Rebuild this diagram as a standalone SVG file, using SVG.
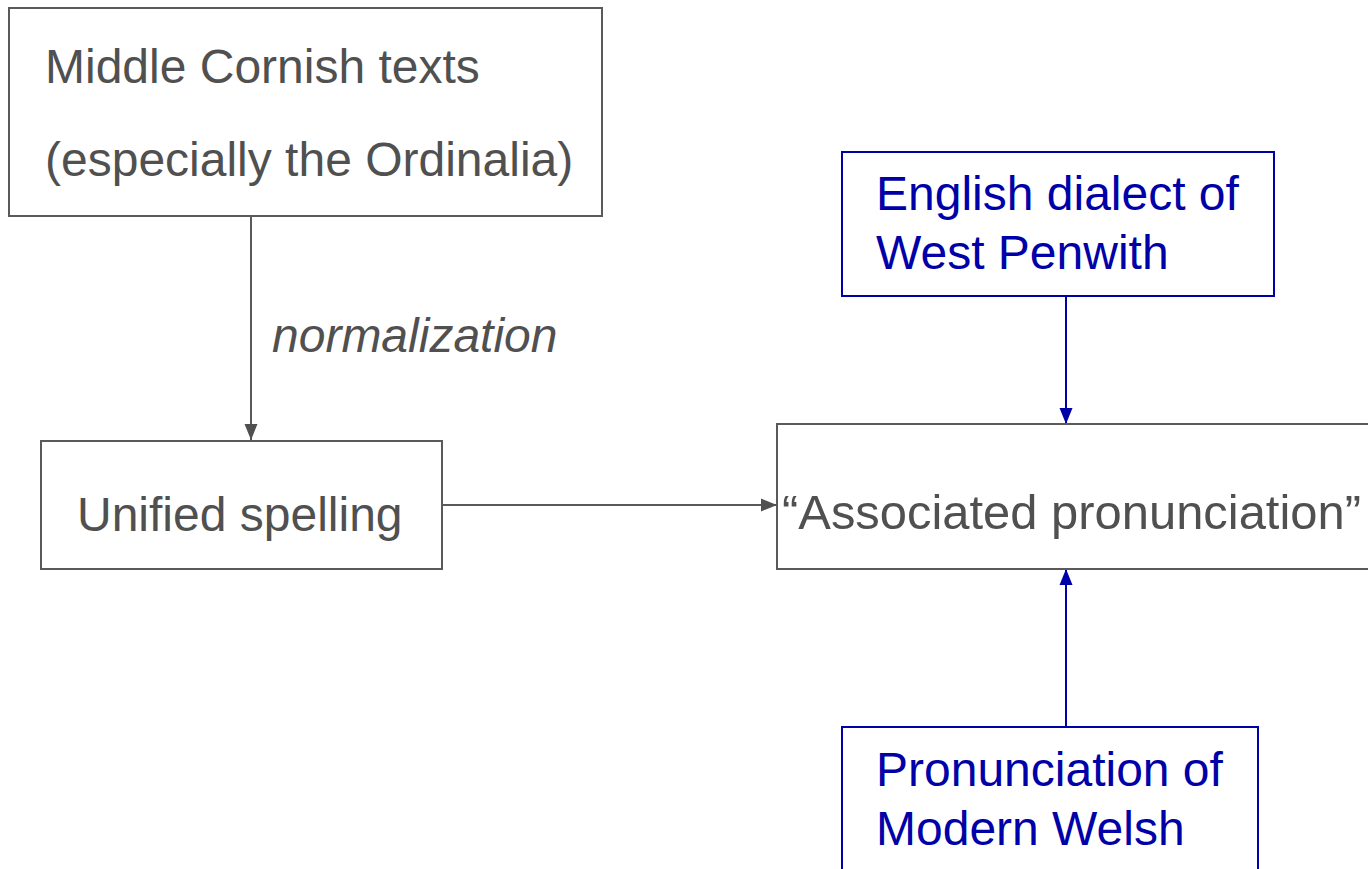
<svg xmlns="http://www.w3.org/2000/svg" width="1368" height="869" viewBox="0 0 1368 869">
<style>
.g{fill:#fff;stroke:#5a5a5a;stroke-width:2}
.b{fill:#fff;stroke:#0000a8;stroke-width:2}
.tg{font-family:"Liberation Sans",Arial,sans-serif;font-size:48px;fill:#505050}
.tb{font-family:"Liberation Sans",Arial,sans-serif;font-size:48px;fill:#0000a8}
.cg{stroke:#5a5a5a;stroke-width:2;fill:none}
.cb{stroke:#0000a8;stroke-width:2;fill:none}
</style>
<defs>
<marker id="ag" viewBox="0 0 16 14" refX="16" refY="7" markerWidth="16" markerHeight="14" markerUnits="userSpaceOnUse" orient="auto"><path d="M0,0.5 L16,7 L0,13.5 Z" fill="#505050"/></marker>
<marker id="ab" viewBox="0 0 16 14" refX="16" refY="7" markerWidth="16" markerHeight="14" markerUnits="userSpaceOnUse" orient="auto"><path d="M0,0.5 L16,7 L0,13.5 Z" fill="#0000a8"/></marker>
</defs>
<rect width="1368" height="869" fill="#fff"/>
<g id="connectors">
<line class="cg" x1="251" y1="216" x2="251" y2="440" marker-end="url(#ag)"/>
<line class="cg" x1="442" y1="505" x2="777" y2="505" marker-end="url(#ag)"/>
<line class="cb" x1="1066" y1="296" x2="1066" y2="424" marker-end="url(#ab)"/>
<line class="cb" x1="1066" y1="727" x2="1066" y2="569" marker-end="url(#ab)"/>
<text class="tg" x="272" y="352" font-style="italic">normalization</text>
</g>
<g id="middle-cornish">
<rect class="g" x="9" y="8" width="593" height="208"/>
<text class="tg" x="45" y="83">Middle Cornish texts</text>
<text class="tg" x="45" y="176">(especially the Ordinalia)</text>
</g>
<g id="unified">
<rect class="g" x="41" y="441" width="401" height="128"/>
<text class="tg" x="77" y="531">Unified spelling</text>
</g>
<g id="associated">
<rect class="g" x="777" y="424" width="620" height="145"/>
<text class="tg" x="782" y="529" style="font-size:49px" textLength="579" lengthAdjust="spacingAndGlyphs">“Associated pronunciation”</text>
</g>
<g id="english">
<rect class="b" x="842" y="152" width="432" height="144"/>
<text class="tb" x="876" y="210">English dialect of</text>
<text class="tb" x="876" y="269">West Penwith</text>
</g>
<g id="welsh">
<rect class="b" x="842" y="727" width="416" height="160"/>
<text class="tb" x="876" y="786">Pronunciation of</text>
<text class="tb" x="876" y="845">Modern Welsh</text>
</g>
</svg>
